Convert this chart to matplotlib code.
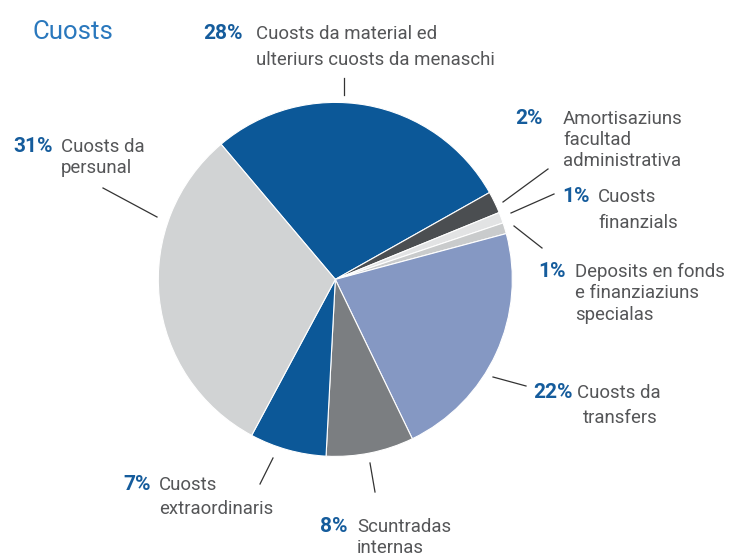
import matplotlib
matplotlib.use("Agg")
import matplotlib.pyplot as plt

W, H = 731, 557
DPI = 100

title = "Cuosts"
percents = [28, 2, 1, 1, 22, 8, 7, 31]
pct_labels = ["28%", "2%", "1%", "1%", "22%", "8%", "7%", "31%"]
names = [
    ["Cuosts da material ed", "ulteriurs cuosts da menaschi"],
    ["Amortisaziuns", "facultad", "administrativa"],
    ["Cuosts", "finanzials"],
    ["Deposits en fonds", "e finanziaziuns", "specialas"],
    ["Cuosts da", "transfers"],
    ["Scuntradas", "internas"],
    ["Cuosts", "extraordinaris"],
    ["Cuosts da", "persunal"],
]
colors = ["#0c5898", "#4b4e51", "#e2e3e4", "#c9cbcc", "#8598c3", "#7b7e81", "#0c5898", "#d1d3d4"]

FONT = "Roboto"
BLUE = "#155c9c"
GREY = "#555658"

fig = plt.figure(figsize=(W / DPI, H / DPI), dpi=DPI)

# pie geometry in pixels
cx, cy, R = 335.3, 279.4, 177.0
ax = fig.add_axes([(cx - R) / W, (H - cy - R) / H, 2 * R / W, 2 * R / H])
ax.pie(percents, colors=colors, startangle=130.2, counterclock=False,
       radius=1.0, wedgeprops=dict(edgecolor="white", linewidth=0.8))
ax.set_xlim(-1, 1)
ax.set_ylim(-1, 1)
ax.set_aspect("equal")
ax.axis("off")

def px(x, y):
    return x / W, 1 - y / H

# title
fig.text(*px(32, 39), title, fontsize=18.5, color="#2a78bd", family=FONT,
         va="baseline", ha="left")

# label layout: (pct x, list of (line x, baseline y))
layout = [
    (203, [(256, 39), (256, 65)]),
    (515, [(563, 124), (563, 145), (563, 166)]),
    (562, [(598, 202), (598, 228)]),
    (538, [(575, 277), (575, 298), (575, 320)]),
    (533, [(577, 398), (583, 423)]),
    (320, [(357, 532), (357, 553)]),
    (123, [(159, 490), (159, 514)]),
    (13, [(61, 152), (61, 173)]),
]
for pl, (px_x, lines), nm in zip(pct_labels, layout, names):
    fig.text(*px(px_x, lines[0][1]), pl, fontsize=15, fontweight="bold", color=BLUE,
             family=FONT, va="baseline", ha="left")
    for (lx, ly), s in zip(lines, nm):
        fig.text(*px(lx, ly), s, fontsize=13.4, color=GREY, family=FONT,
                 va="baseline", ha="left")

# leader lines (pixel coordinates)
leaders = [
    ((344, 78), (344, 95)),
    ((548, 169), (503, 202)),
    ((554, 194), (511, 213)),
    ((514, 226), (542, 248)),
    ((493, 377), (526, 386)),
    ((370, 463), (375, 492)),
    ((273, 458), (260, 484)),
    ((103, 188), (157, 217)),
]
for (x1, y1), (x2, y2) in leaders:
    a, b = px(x1, y1)
    c, d = px(x2, y2)
    fig.add_artist(plt.Line2D([a, c], [b, d], transform=fig.transFigure, color="#333333", linewidth=0.9))

fig.savefig("out.png", dpi=DPI)
